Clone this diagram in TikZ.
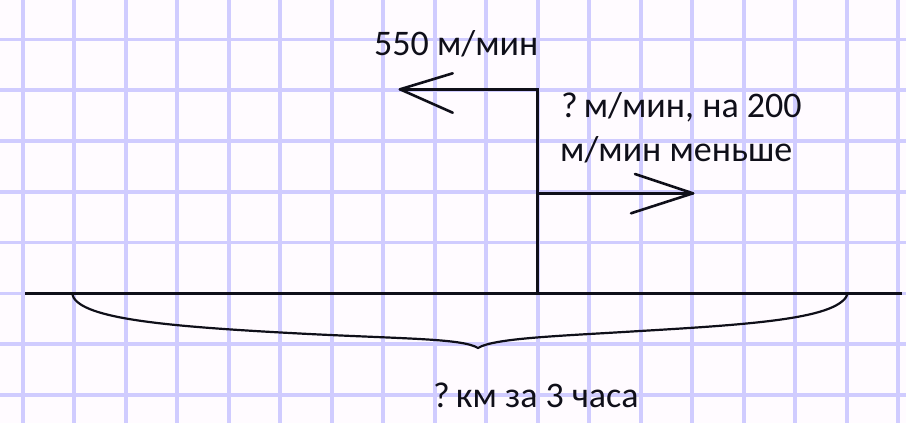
\documentclass[tikz,border=0pt]{standalone}
\usepackage{fontspec}
\setmainfont{Carlito}
\definecolor{gridc}{RGB}{208,204,255}
\definecolor{paper}{RGB}{255,251,255}
\definecolor{ink}{RGB}{15,15,25}
\begin{document}
\begin{tikzpicture}[x=1pt,y=-1pt,
  gridline/.style={draw=gridc,line width=3.6pt},
  inkline/.style={draw=ink,line width=2.6pt,line cap=round,line join=miter},
  lbl/.style={anchor=base west,inner sep=0pt,text=ink,font=\fontsize{36}{43}\selectfont}]
\fill[paper] (0,0) rectangle (906,423);
\useasboundingbox (0,0) rectangle (906,423);
% grid
\foreach \k in {0,...,17} {
  \draw[gridline] ({22.7+51.5*\k},0) -- ({22.7+51.5*\k},423);
}
\foreach \k in {0,...,7} {
  \draw[gridline] (0,{39.3+50.8*\k}) -- (906,{39.3+50.8*\k});
}
% coordinates
\coordinate (baseL) at (25,293.3);
\coordinate (baseR) at (902,293.3);
\coordinate (foot) at (537.7,293.3);
\coordinate (corner) at (537.7,89.3);
\coordinate (ltip) at (400,89.3);
\coordinate (larm1) at (452.7,73.3);
\coordinate (larm2) at (452.7,112.7);
\coordinate (rstart) at (537.7,193.3);
\coordinate (rtip) at (693,193.3);
\coordinate (rarm1) at (635,174);
\coordinate (rarm2) at (631,213.3);
\coordinate (braceL) at (72,293.3);
\coordinate (braceR) at (848,293.3);
\coordinate (braceTip) at (478,348);
% base line
\draw[inkline,line cap=butt] (baseL) -- (baseR);
% left arrow with vertical stem
\draw[inkline] (foot) -- (corner) -- (ltip);
\draw[inkline] (ltip) -- (larm1);
\draw[inkline] (ltip) -- (larm2);
% right arrow
\draw[inkline] (rstart) -- (rtip);
\draw[inkline] (rtip) -- (rarm1);
\draw[inkline] (rtip) -- (rarm2);
% brace
\draw[inkline,line width=2.2pt] (braceL) .. controls (76,318) and (160,326) .. (290,333)
  .. controls (400,339) and (462,338) .. (braceTip)
  .. controls (494,338) and (560,336) .. (640,331)
  .. controls (760,324) and (840,318) .. (braceR);
% labels
\node[lbl] (v1) at (374,56) {550 м/мин};
\node[lbl] (v2a) at (561,117) {?\,м/мин, на 200};
\node[lbl] (v2b) at (560,161) {м/мин меньше};
\node[lbl] (total) at (433,407) {?\,км за 3 часа};
\end{tikzpicture}
\end{document}
